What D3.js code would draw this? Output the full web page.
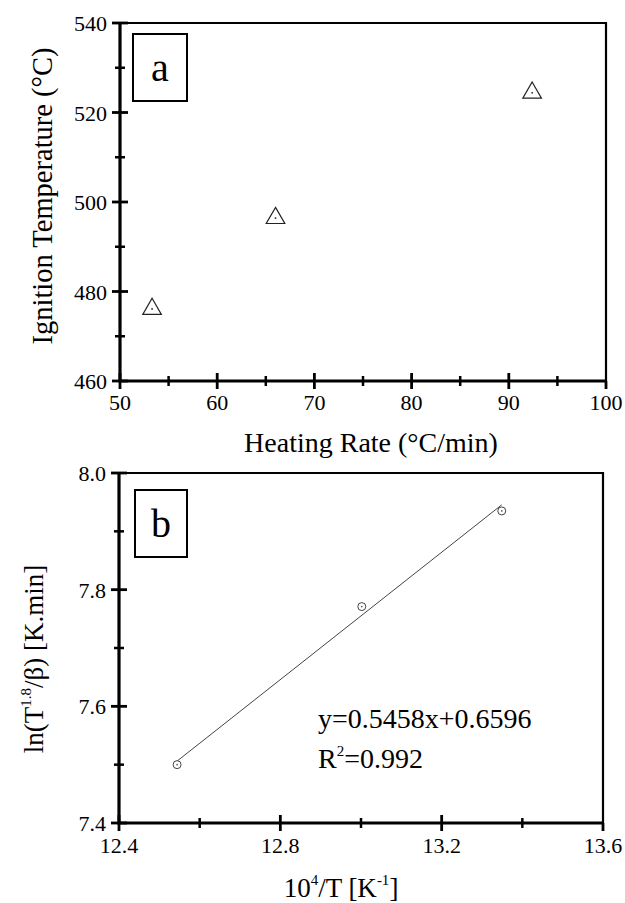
<!DOCTYPE html>
<html>
<head>
<meta charset="utf-8">
<script src="https://cdn.jsdelivr.net/npm/d3@7"></script>
<style>
  body { margin: 0; background: #fff; }
</style>
</head>
<body>
<div id="canvas"></div>
<script>
"use strict"

/* data: panel a */
let heatingRate = [53.3, 66.0, 92.4];
let ignitionTemp = [476.1, 496.4, 524.4];
let aXTicks = [50, 60, 70, 80, 90, 100];
let aYTicks = [460, 480, 500, 520, 540];

/* data: panel b */
let invT = [12.544, 13.002, 13.349];
let lnTerm = [7.50, 7.771, 7.935];
let fitSlope = 0.5458;
let fitIntercept = 0.6596;
let fitRange = [12.544, 13.349];
let bXTicks = [12.4, 12.8, 13.2, 13.6];
let bYTicks = [7.4, 7.6, 7.8, 8.0];

let svgWidth = 625;
let svgHeight = 903;
let serif = "'Liberation Serif', 'Times New Roman', Times, serif";

let svg = d3.select("#canvas")
    .append("svg")
    .attr("width", svgWidth)
    .attr("height", svgHeight)
    .style("font-family", serif);

/* text element whose content sits in a tspan */
function label(sel, str) {
    let t = sel.append("text").style("font-family", serif);
    if (str !== undefined) t.append("tspan").text(str);
    return t;
}

/* draws a framed plot with crossing major/minor ticks */
function drawFrame(x, y, opts) {
    let [x0, x1] = x.range();
    let [y0, y1] = y.range(); // y0 = bottom

    // top + right border
    svg.append("path")
        .attr("d", `M${x0},${y1}H${x1}V${y0}`)
        .attr("fill", "none")
        .attr("stroke", "#000")
        .attr("stroke-width", 2.2);

    // minor ticks
    svg.selectAll(null).data(opts.xMinor).join("line")
        .attr("x1", d => x(d)).attr("x2", d => x(d))
        .attr("y1", y0 - 5).attr("y2", y0 + 5)
        .attr("stroke", "#000").attr("stroke-width", 2.5);
    svg.selectAll(null).data(opts.yMinor).join("line")
        .attr("y1", d => y(d)).attr("y2", d => y(d))
        .attr("x1", x0 - 5).attr("x2", x0 + 5)
        .attr("stroke", "#000").attr("stroke-width", 2.5);

    // major ticks
    svg.selectAll(null).data(opts.xTicks).join("line")
        .attr("x1", d => x(d)).attr("x2", d => x(d))
        .attr("y1", d => d === opts.xTicks[opts.xTicks.length - 1] ? y0 : y0 - 8)
        .attr("y2", y0 + 8)
        .attr("stroke", "#000").attr("stroke-width", 2.8);
    svg.selectAll(null).data(opts.yTicks).join("line")
        .attr("y1", d => y(d)).attr("y2", d => y(d))
        .attr("x1", x0 - 8).attr("x2", x0 + 8)
        .attr("stroke", "#000").attr("stroke-width", 2.8);

    // left + bottom axis lines
    svg.append("path")
        .attr("d", `M${x0},${y1}V${y0}H${x1}`)
        .attr("fill", "none")
        .attr("stroke", "#000")
        .attr("stroke-width", 3.2);

    // tick labels
    opts.xTicks.forEach(d => {
        label(svg, opts.xFormat(d))
            .attr("x", x(d))
            .attr("y", y0 + opts.xLabelDy)
            .attr("text-anchor", "middle")
            .attr("font-size", 22);
    });
    opts.yTicks.forEach(d => {
        label(svg, opts.yFormat(d))
            .attr("x", x0 - 13)
            .attr("y", y(d) + 8)
            .attr("text-anchor", "end")
            .attr("font-size", 22);
    });
}

function tagBox(x, y, w, h, letter) {
    svg.append("rect")
        .attr("x", x).attr("y", y)
        .attr("width", w).attr("height", h)
        .attr("fill", "none")
        .attr("stroke", "#000")
        .attr("stroke-width", 2);
    label(svg, letter)
        .attr("x", x + w / 2)
        .attr("y", y + h / 2 + 13)
        .attr("text-anchor", "middle")
        .attr("font-size", 40);
}

/**** panel a ****/
let xA = d3.scaleLinear().domain([50, 100]).range([120, 606]);
let yA = d3.scaleLinear().domain([460, 540]).range([381, 23]);

drawFrame(xA, yA, {
    xTicks: aXTicks,
    yTicks: aYTicks,
    xMinor: [55, 65, 75, 85, 95],
    yMinor: [470, 490, 510, 530],
    xLabelDy: 29,
    xFormat: d => String(d),
    yFormat: d => String(d)
});

tagBox(133, 34, 54, 67, "a");

let tri = d3.symbol().type(d3.symbolTriangle).size(150);
let ptsA = heatingRate.map((d, i) => [d, ignitionTemp[i]]);
svg.selectAll(null).data(ptsA).join("path")
    .attr("transform", d => `translate(${xA(d[0])},${yA(d[1])})`)
    .attr("d", tri)
    .attr("fill", "none")
    .attr("stroke", "#222")
    .attr("stroke-width", 1.2);
svg.selectAll(null).data(ptsA).join("circle")
    .attr("cx", d => xA(d[0]))
    .attr("cy", d => yA(d[1]))
    .attr("r", 0.9)
    .attr("fill", "#222");

label(svg, "Heating Rate (°C/min)")
    .attr("x", 371)
    .attr("y", 452)
    .attr("text-anchor", "middle")
    .attr("font-size", 28);

label(svg, "Ignition Temperature (°C)")
    .attr("transform", "translate(52,196) rotate(-90)")
    .attr("text-anchor", "middle")
    .attr("font-size", 28.5);

/**** panel b ****/
let xB = d3.scaleLinear().domain([12.4, 13.6]).range([119, 603]);
let yB = d3.scaleLinear().domain([7.4, 8.0]).range([823, 473]);

drawFrame(xB, yB, {
    xTicks: bXTicks,
    yTicks: bYTicks,
    xMinor: [12.6, 13.0, 13.4],
    yMinor: [7.5, 7.7, 7.9],
    xLabelDy: 30,
    xFormat: d3.format(".1f"),
    yFormat: d3.format(".1f")
});

tagBox(135, 490, 52, 67, "b");

// fitted line
svg.append("line")
    .attr("x1", xB(fitRange[0]))
    .attr("y1", yB(fitSlope * fitRange[0] + fitIntercept))
    .attr("x2", xB(fitRange[1]))
    .attr("y2", yB(fitSlope * fitRange[1] + fitIntercept))
    .attr("stroke", "#444")
    .attr("stroke-width", 1);

let ptsB = invT.map((d, i) => [d, lnTerm[i]]);
svg.selectAll(null).data(ptsB).join("circle")
    .attr("cx", d => xB(d[0]))
    .attr("cy", d => yB(d[1]))
    .attr("r", 4)
    .attr("fill", "#fff")
    .attr("stroke", "#444")
    .attr("stroke-width", 1);
svg.selectAll(null).data(ptsB).join("circle")
    .attr("cx", d => xB(d[0]))
    .attr("cy", d => yB(d[1]))
    .attr("r", 0.8)
    .attr("fill", "#444");

// equation
label(svg, `y=${fitSlope}x+${fitIntercept}`)
    .attr("x", 318)
    .attr("y", 728)
    .attr("font-size", 28);
let r2 = label(svg)
    .attr("x", 318)
    .attr("y", 768)
    .attr("font-size", 28);
r2.append("tspan").text("R");
r2.append("tspan").attr("font-size", 15).attr("dy", -12).text("2");
r2.append("tspan").attr("dy", 12).text("=0.992");

// axis titles
let xtB = label(svg)
    .attr("x", 341)
    .attr("y", 897)
    .attr("text-anchor", "middle")
    .attr("font-size", 27);
xtB.append("tspan").text("10");
xtB.append("tspan").attr("font-size", 15).attr("dy", -12).text("4");
xtB.append("tspan").attr("dy", 12).text("/T [K");
xtB.append("tspan").attr("font-size", 15).attr("dy", -12).text("-1");
xtB.append("tspan").attr("dy", 12).text("]");

let ytB = label(svg)
    .attr("transform", "translate(43,659) rotate(-90)")
    .attr("text-anchor", "middle")
    .attr("font-size", 27);
ytB.append("tspan").text("ln(T");
ytB.append("tspan").attr("font-size", 15).attr("dy", -12).text("1.8");
ytB.append("tspan").attr("dy", 12).text("/β) [K.min]");
</script>
</body>
</html>
